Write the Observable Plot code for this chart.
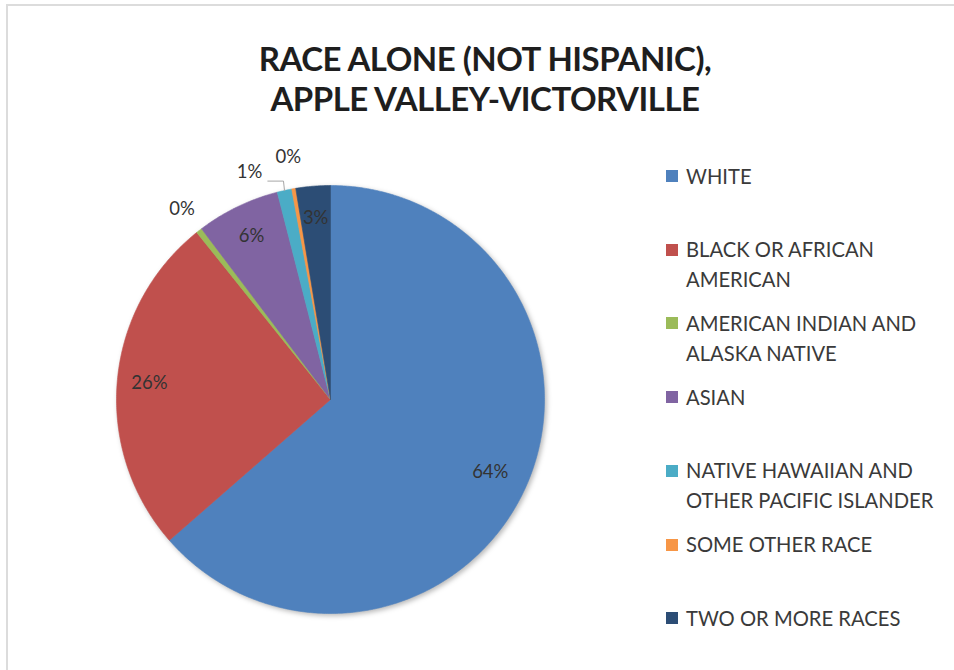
<!DOCTYPE html>
<html>
<head>
<meta charset="utf-8">
<script src="https://cdn.jsdelivr.net/npm/d3@7"></script>
<script src="https://cdn.jsdelivr.net/npm/@observablehq/plot@0.6"></script>
<style>
  html, body { margin: 0; padding: 0; background: #fff; }
  #wrap { position: relative; width: 954px; height: 670px; overflow: hidden; background: #fff; }
  #frameTop { position: absolute; left: 6px; top: 4px; width: 948px; height: 2px; background: #dcdcdc; }
  #frameLeft { position: absolute; left: 6px; top: 4px; width: 2px; height: 666px; background: #dcdcdc; }
  #title { position: absolute; left: 0; top: 38px; width: 970px; text-align: center;
           font-family: Lato, "Open Sans", sans-serif; font-weight: 700; font-size: 33px; letter-spacing: -0.5px;
           line-height: 40px; color: #1e1e1e; }
  #chart { position: absolute; left: 0; top: 0; }
  .leg { position: absolute; font-family: Lato, "Open Sans", sans-serif; font-size: 20.2px; line-height: 30px; color: #3a3a3a; white-space: nowrap; }
  .sw { position: absolute; width: 12px; height: 12px; }
</style>
</head>
<body>
<div id="wrap">
  <div id="frameTop"></div>
  <div id="frameLeft"></div>
  <div id="chart"></div>
  <div id="title"></div>
</div>
<script>
// ---- data ----
const titleLines = ["RACE ALONE (NOT HISPANIC),", "APPLE VALLEY-VICTORVILLE"];
const categories = [
  "WHITE",
  "BLACK OR AFRICAN AMERICAN",
  "AMERICAN INDIAN AND ALASKA NATIVE",
  "ASIAN",
  "NATIVE HAWAIIAN AND OTHER PACIFIC ISLANDER",
  "SOME OTHER RACE",
  "TWO OR MORE RACES"
];
const legendLines = [
  ["WHITE"],
  ["BLACK OR AFRICAN", "AMERICAN"],
  ["AMERICAN INDIAN AND", "ALASKA NATIVE"],
  ["ASIAN"],
  ["NATIVE HAWAIIAN AND", "OTHER PACIFIC ISLANDER"],
  ["SOME OTHER RACE"],
  ["TWO OR MORE RACES"]
];
const shares = [63.6, 25.7, 0.45, 6.3, 1.1, 0.3, 2.6];
const percentLabels = ["64%", "26%", "0%", "6%", "1%", "0%", "3%"];
const colors = ["#4F81BD", "#C0504D", "#9BBB59", "#8064A2", "#4BACC6", "#F79646", "#2C4D75"];

// ---- title ----
document.getElementById("title").innerHTML = titleLines.join("<br>");

// ---- slices (clockwise from 12 o'clock) ----
const total = d3.sum(shares);
let acc = 0;
const slices = categories.map((c, i) => {
  const a0 = acc / total * 2 * Math.PI;
  acc += shares[i];
  const a1 = acc / total * 2 * Math.PI;
  return {category: c, i, a0, a1, mid: (a0 + a1) / 2, color: colors[i], label: percentLabels[i], share: shares[i]};
});

const piePoints = [];
for (const s of slices) {
  piePoints.push({i: s.i, x: 0, y: 0, color: s.color});
  const n = Math.max(2, Math.ceil((s.a1 - s.a0) / (Math.PI / 360)));
  for (let k = 0; k <= n; k++) {
    const a = s.a0 + (s.a1 - s.a0) * k / n;
    piePoints.push({i: s.i, x: Math.sin(a), y: Math.cos(a), color: s.color});
  }
  piePoints.push({i: s.i, x: 0, y: 0, color: s.color});
}

// label placement: inside for large slices, outside for small ones
const labelData = slices.map(s => {
  const inside = s.share >= 2;
  const r = inside ? (s.i === 0 ? 0.82 : 0.85) : (s.i === 5 ? 1.15 : 1.13);
  return {x: Math.sin(s.mid) * r, y: Math.cos(s.mid) * r, label: s.label, i: s.i};
});
// the 1% label is nudged aside with a leader line
const hawaii = slices[4];
const nudged = labelData[4];
nudged.x -= 0.135; nudged.y -= 0.04;
const leader = [
  {x: nudged.x + 0.085, y: Math.cos(hawaii.mid) * 1.045},
  {x: Math.sin(hawaii.mid) * 1.045 + 0.005, y: Math.cos(hawaii.mid) * 1.045},
  {x: Math.sin(hawaii.mid) * 1.0, y: Math.cos(hawaii.mid) * 1.0}
];

const plot = Plot.plot({
  width: 954,
  height: 670,
  marginLeft: 116,
  marginRight: 410,
  marginTop: 185,
  marginBottom: 57,
  x: {domain: [-1, 1], axis: null},
  y: {domain: [-1, 1], axis: null},
  color: {type: "identity"},
  style: {background: "transparent", overflow: "visible"},
  marks: [
    Plot.line(piePoints, {x: "x", y: "y", z: "i", fill: "color", stroke: "color", strokeWidth: 0.6, curve: "linear"}),
    Plot.line(leader, {x: "x", y: "y", stroke: "#a6a6a6", strokeWidth: 1}),
    Plot.text(labelData, {x: "x", y: "y", text: "label", fontSize: 18.5, fill: "#333333",
      fontFamily: "Lato, 'Open Sans', sans-serif", textAnchor: "middle", lineAnchor: "middle"})
  ]
});
document.getElementById("chart").appendChild(plot);
const pieG = plot.querySelector('g[aria-label="line"]');
if (pieG) pieG.style.filter = "drop-shadow(2px 2px 2.5px rgba(0,0,0,0.28))";

// ---- legend ----
const wrap = document.getElementById("wrap");
legendLines.forEach((lines, i) => {
  const cy = 176 + i * 73.7;
  const sw = document.createElement("div");
  sw.className = "sw";
  sw.style.left = "666px";
  sw.style.top = (cy - 6) + "px";
  sw.style.background = colors[i];
  wrap.appendChild(sw);
  const t = document.createElement("div");
  t.className = "leg";
  t.style.left = "686px";
  t.style.top = (cy - 15.5) + "px";
  t.innerHTML = lines.join("<br>");
  wrap.appendChild(t);
});
</script>
</body>
</html>
